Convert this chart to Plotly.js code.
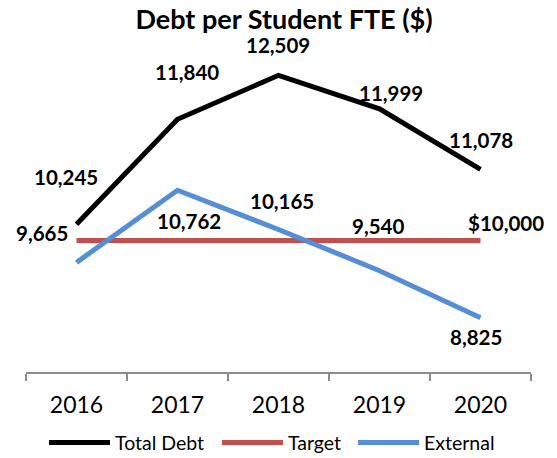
<!DOCTYPE html>
<html>
<head>
<meta charset="utf-8">
<script src="https://cdn.plot.ly/plotly-3.0.1.min.js"></script>
<style>html,body{margin:0;padding:0;background:#fff;}#chart{width:557px;height:458px;}</style>
</head>
<body>
<div id="chart"></div>
<script>
var years = ["2016", "2017", "2018", "2019", "2020"];
var totalDebt = [10245, 11840, 12509, 11999, 11078];
var target = [10000, 10000, 10000, 10000, 10000];
var external = [9665, 10762, 10165, 9540, 8825];

var totalShift = [[-11, 47], [9, 47], [-1, 30], [11, 16], [0, 29]];
var externalShift = [[-35, 29], [11, -31], [3, 29], [-2, 45], [-5, -19]];
var targetShift = [25, 17];

function fmt(v) { return v.toLocaleString('en-US'); }

var FONT = 'Lato, "Open Sans", sans-serif';

var traces = [
  {x: years, y: totalDebt, name: 'Total Debt', type: 'scatter', mode: 'lines', legend: 'legend',
   line: {color: '#000000', width: 5}},
  {x: years, y: target, name: 'Target', type: 'scatter', mode: 'lines', legend: 'legend2',
   line: {color: '#C0504D', width: 5}},
  {x: years, y: external, name: 'External', type: 'scatter', mode: 'lines', legend: 'legend3',
   line: {color: '#558ED5', width: 5}}
];

var LBL = {family: FONT, size: 20.5, color: '#000'};
var annotations = [];
function addLabels(vals, shifts) {
  vals.forEach(function (v, i) {
    annotations.push({x: i, y: v, text: '<b>' + fmt(v) + '</b>', showarrow: false,
      xshift: shifts[i][0], yshift: shifts[i][1], font: LBL});
  });
}
addLabels(totalDebt, totalShift);
addLabels(external, externalShift);
var li = years.length - 1;
annotations.push({x: li, y: target[li], text: '<b>$' + fmt(target[li]) + '</b>', showarrow: false,
  xshift: targetShift[0], yshift: targetShift[1], font: LBL});

function leg(xpx) {
  return {orientation: 'h', xref: 'container', x: xpx / 557, xanchor: 'left', yref: 'container', y: 0.033, yanchor: 'middle',
    font: {family: FONT, size: 19.5, color: '#000'}, itemwidth: 61, bgcolor: 'rgba(0,0,0,0)'};
}

var layout = {
  width: 557, height: 458,
  margin: {l: 26, r: 26, t: 43, b: 86},
  paper_bgcolor: '#fff', plot_bgcolor: '#fff',
  title: {text: '<b>Debt per Student FTE ($)</b>', font: {family: FONT, size: 27, color: '#000'},
    xref: 'container', x: 0.51, xanchor: 'center', yref: 'container', y: 0.958, yanchor: 'middle'},
  xaxis: {type: 'category', range: [-0.5, 4.5], showline: true, linecolor: '#8C8C8C', linewidth: 1.5,
    ticks: 'outside', tickson: 'boundaries', ticklen: 7, tickcolor: '#8C8C8C', tickwidth: 1.5,
    showgrid: false, zeroline: false, tickfont: {family: FONT, size: 23, color: '#000'}, ticklabelstandoff: 12},
  yaxis: {range: [8000, 13000], visible: false, showgrid: false, zeroline: false},
  showlegend: true,
  legend: leg(44),
  legend2: leg(217),
  legend3: leg(353),
  annotations: annotations
};

Plotly.newPlot('chart', traces, layout, {displayModeBar: false, staticPlot: true});
</script>
</body>
</html>
